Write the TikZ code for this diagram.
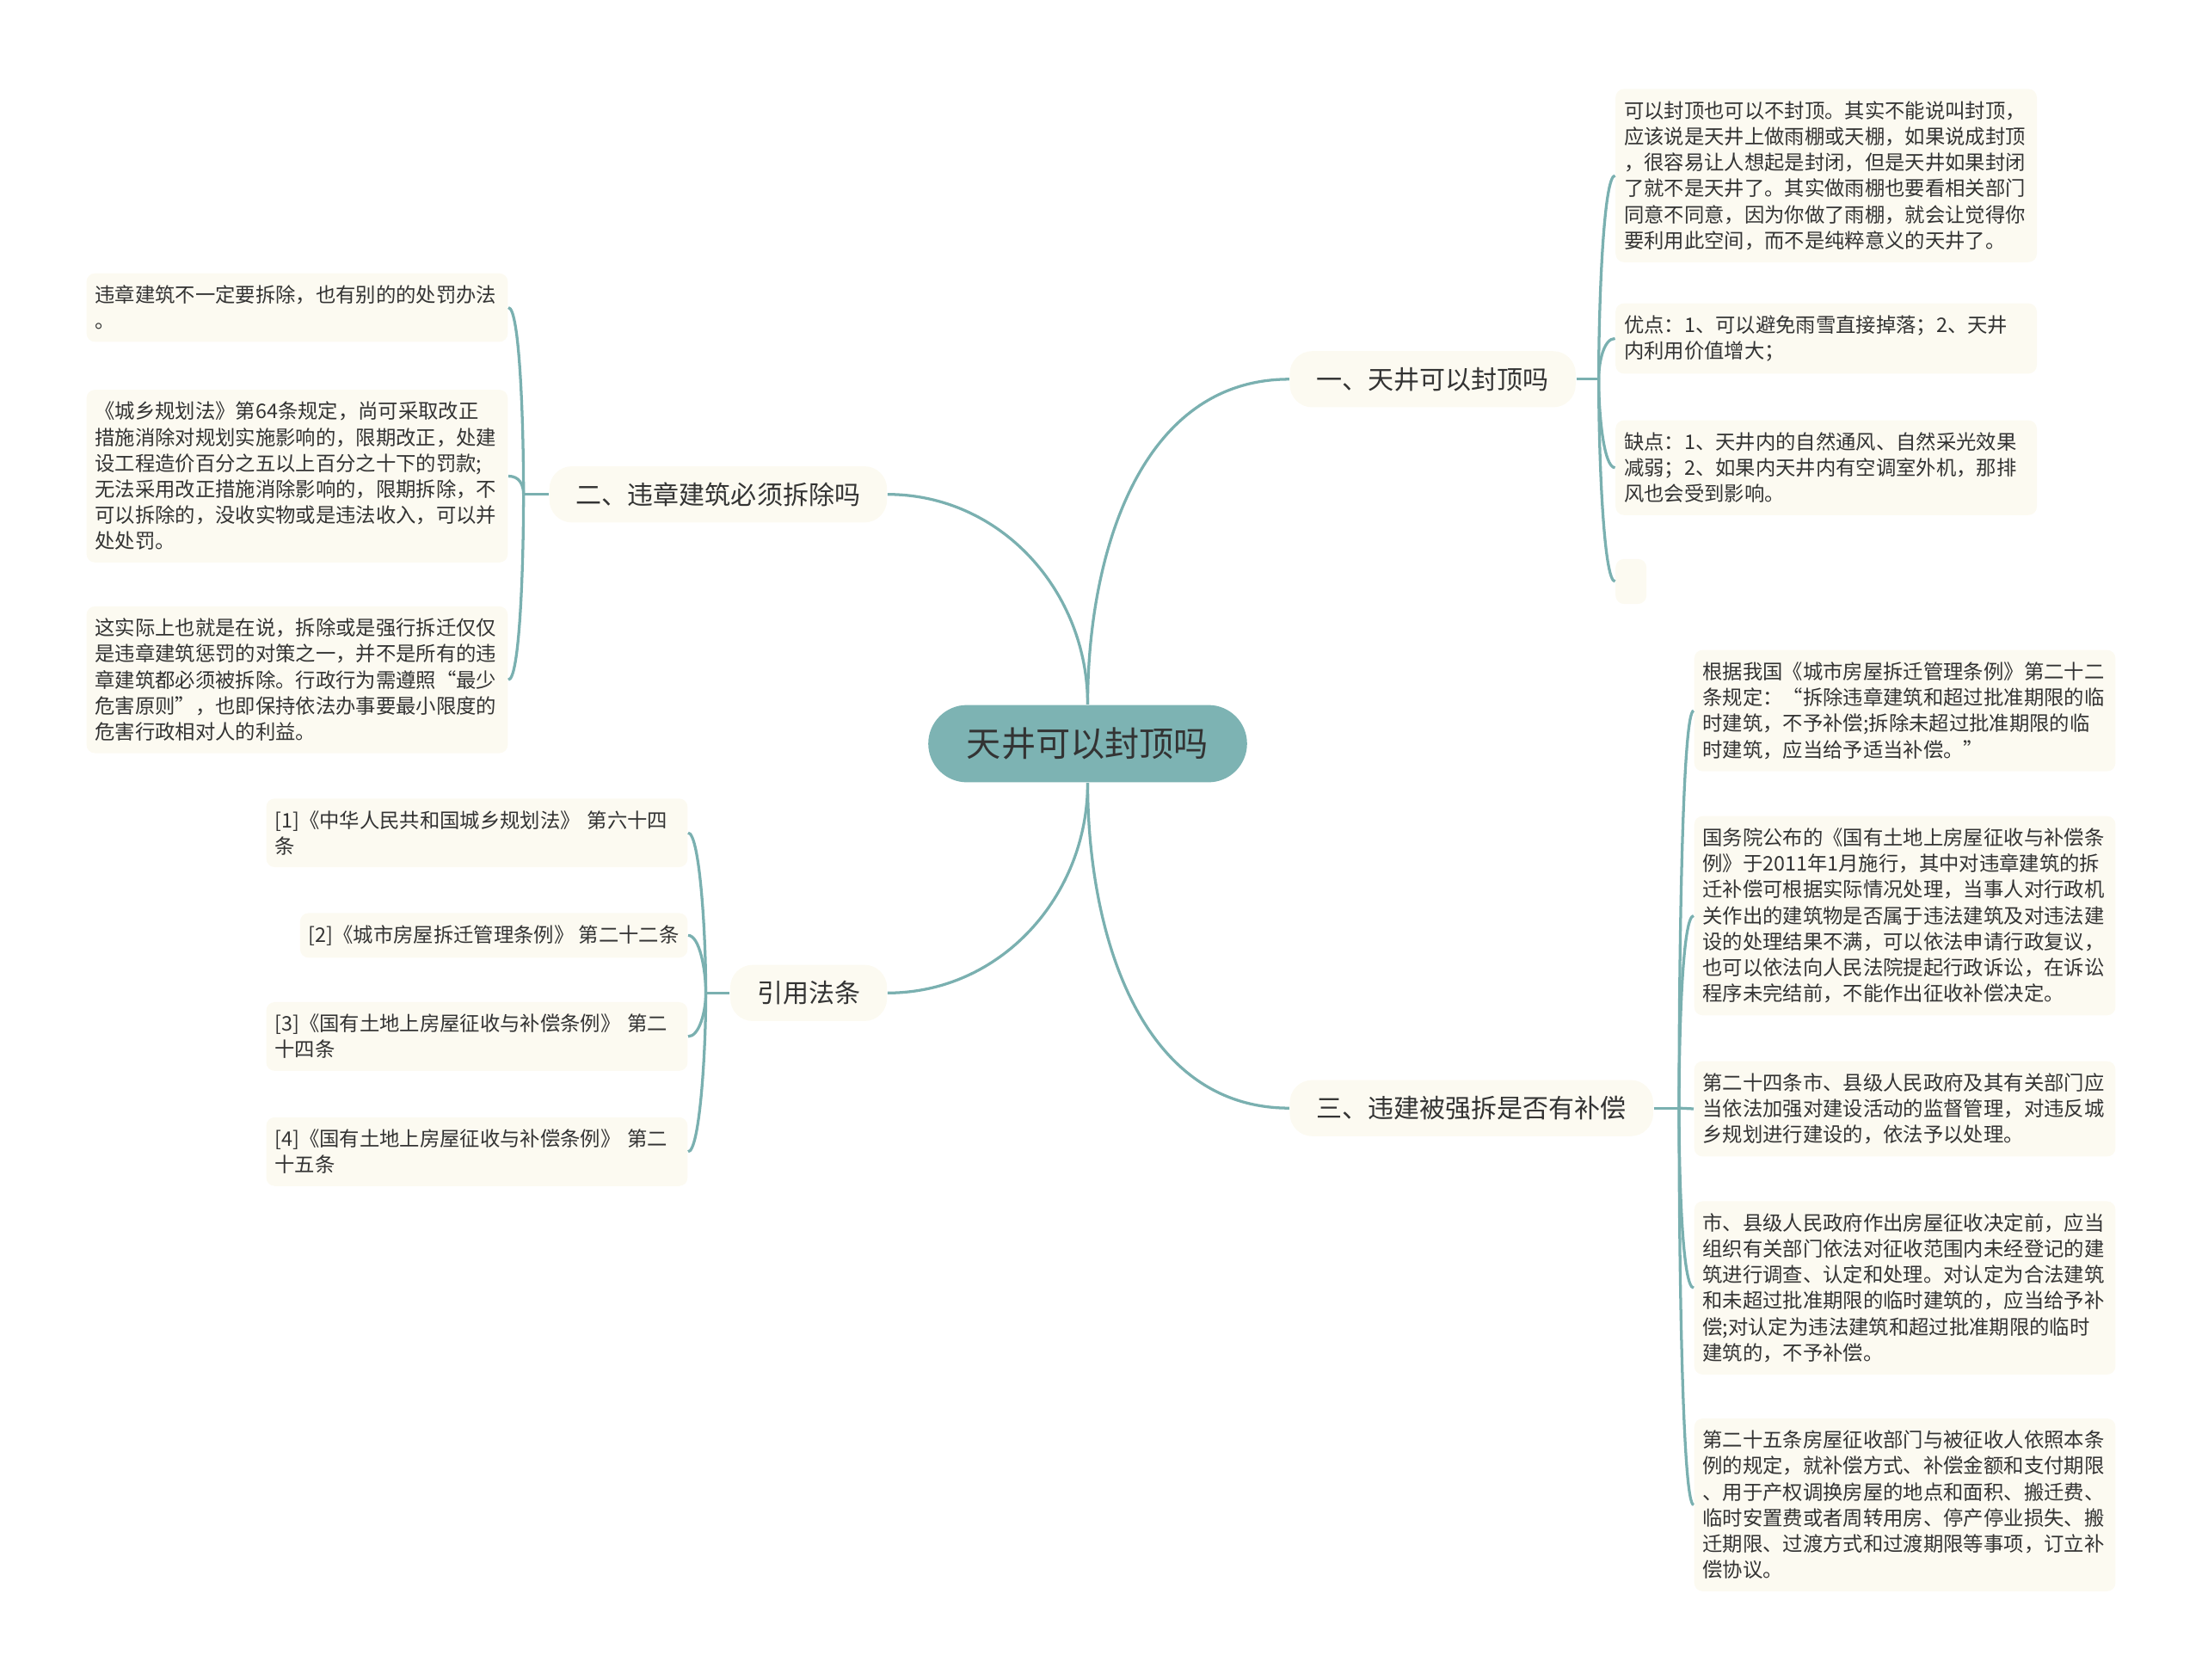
\documentclass[tikz,border=0pt]{standalone}
\usepackage{fontspec}
\setmainfont{Noto Sans CJK SC}
\usetikzlibrary{positioning}

\definecolor{linecol}{HTML}{7AB0B0}
\definecolor{rootcol}{HTML}{7DB3B3}
\definecolor{boxcol}{HTML}{FCFAF1}
\definecolor{txtcol}{HTML}{333333}

\tikzset{
  rootbox/.style={fill=rootcol, rounded corners=13.75pt, minimum width=113.5pt, minimum height=27.5pt,
    inner sep=0pt, text=txtcol, font=\fontsize{12.3pt}{14pt}\selectfont},
  branchbox/.style={fill=boxcol, rounded corners=8pt, minimum height=20pt, inner xsep=9.5pt, inner ysep=0pt,
    text=txtcol, font=\fontsize{9.2pt}{11pt}\selectfont},
  leafbox/.style={fill=boxcol, rounded corners=3pt, text width=144pt, align=left, inner xsep=3pt,
    inner ysep=4.3pt, text=txtcol, font=\fontsize{7.15pt}{9.25pt}\selectfont},
  link/.style={draw=linecol, line width=1pt},
  upright/.style={out=90, in=180, in distance=4pt},
  downright/.style={out=-90, in=180, in distance=4pt},
  upleft/.style={out=90, in=0, in distance=4pt},
  downleft/.style={out=-90, in=0, in distance=4pt}
}

\begin{document}
\begin{tikzpicture}[x=0.5pt, y=0.5pt]
    \useasboundingbox (0,0) rectangle (1568,-1196);

    % centre and the four main topics
    \node[rootbox] (root) at (774.5,-529.5) {天井可以封顶吗};
    \node[branchbox, anchor=west] (b1) at (918,-270) {一、天井可以封顶吗};
    \node[branchbox, anchor=east] (b2) at (632,-352) {二、违章建筑必须拆除吗};
    \node[branchbox, anchor=west] (b3) at (918,-789) {三、违建被强拆是否有补偿};
    \node[branchbox, anchor=east] (b4) at (632,-707) {引用法条};

    \draw[link] (root.north) to[out=90, in=180] (b1.west);
    \draw[link] (root.north) to[out=90, in=0] (b2.east);
    \draw[link] (root.south) to[out=-90, in=180] (b3.west);
    \draw[link] (root.south) to[out=-90, in=0] (b4.east);

    % topic one
    \node[leafbox, anchor=west] (l1a) at (1150,-125) {可以封顶也可以不封顶。其实不能说叫封顶，\\应该说是天井上做雨棚或天棚，如果说成封顶\\，很容易让人想起是封闭，但是天井如果封闭\\了就不是天井了。其实做雨棚也要看相关部门\\同意不同意，因为你做了雨棚，就会让觉得你\\要利用此空间，而不是纯粹意义的天井了。};
    \node[leafbox, anchor=west] (l1b) at (1150,-241) {优点：1、可以避免雨雪直接掉落；2、天井\\内利用价值增大；};
    \node[leafbox, anchor=west] (l1c) at (1150,-333) {缺点：1、天井内的自然通风、自然采光效果\\减弱；2、如果内天井内有空调室外机，那排\\风也会受到影响。};
    \node[fill=boxcol, rounded corners=3pt, minimum width=11pt, minimum height=16pt, inner sep=0pt,
      anchor=west] (l1d) at (1150,-414) {};

    \draw[link] (b1.east) -- ++(16,0) coordinate (j1);
    \foreach \n in {l1a,l1b} \draw[link] (j1) to[upright] (\n.west);
    \foreach \n in {l1c,l1d} \draw[link] (j1) to[downright] (\n.west);

    % topic two
    \node[leafbox, anchor=east] (l2a) at (362,-219) {违章建筑不一定要拆除，也有别的的处罚办法\\。};
    \node[leafbox, anchor=east] (l2b) at (362,-339) {《城乡规划法》第64条规定，尚可采取改正\\措施消除对规划实施影响的，限期改正，处建\\设工程造价百分之五以上百分之十下的罚款;\\无法采用改正措施消除影响的，限期拆除，不\\可以拆除的，没收实物或是违法收入，可以并\\处处罚。};
    \node[leafbox, anchor=east] (l2c) at (362,-484) {这实际上也就是在说，拆除或是强行拆迁仅仅\\是违章建筑惩罚的对策之一，并不是所有的违\\章建筑都必须被拆除。行政行为需遵照“最少\\危害原则”，也即保持依法办事要最小限度的\\危害行政相对人的利益。};

    \draw[link] (b2.west) -- ++(-18,0) coordinate (j2);
    \foreach \n in {l2a,l2b} \draw[link] (j2) to[upleft] (\n.east);
    \draw[link] (j2) to[downleft] (l2c.east);

    % topic three
    \node[leafbox, anchor=west] (l3a) at (1206,-506) {根据我国《城市房屋拆迁管理条例》第二十二\\条规定：“拆除违章建筑和超过批准期限的临\\时建筑，不予补偿;拆除未超过批准期限的临\\时建筑，应当给予适当补偿。”};
    \node[leafbox, anchor=west] (l3b) at (1206,-652) {国务院公布的《国有土地上房屋征收与补偿条\\例》于2011年1月施行，其中对违章建筑的拆\\迁补偿可根据实际情况处理，当事人对行政机\\关作出的建筑物是否属于违法建筑及对违法建\\设的处理结果不满，可以依法申请行政复议，\\也可以依法向人民法院提起行政诉讼，在诉讼\\程序未完结前，不能作出征收补偿决定。};
    \node[leafbox, anchor=west] (l3c) at (1206,-789.5) {第二十四条市、县级人民政府及其有关部门应\\当依法加强对建设活动的监督管理，对违反城\\乡规划进行建设的，依法予以处理。};
    \node[leafbox, anchor=west] (l3d) at (1206,-917) {市、县级人民政府作出房屋征收决定前，应当\\组织有关部门依法对征收范围内未经登记的建\\筑进行调查、认定和处理。对认定为合法建筑\\和未超过批准期限的临时建筑的，应当给予补\\偿;对认定为违法建筑和超过批准期限的临时\\建筑的，不予补偿。};
    \node[leafbox, anchor=west] (l3e) at (1206,-1071.5) {第二十五条房屋征收部门与被征收人依照本条\\例的规定，就补偿方式、补偿金额和支付期限\\、用于产权调换房屋的地点和面积、搬迁费、\\临时安置费或者周转用房、停产停业损失、搬\\迁期限、过渡方式和过渡期限等事项，订立补\\偿协议。};

    \draw[link] (b3.east) -- ++(18,0) coordinate (j3);
    \foreach \n in {l3a,l3b} \draw[link] (j3) to[upright] (\n.west);
    \draw[link] (j3) -- (l3c.west);
    \foreach \n in {l3d,l3e} \draw[link] (j3) to[downright] (\n.west);

    % cited articles
    \node[leafbox, anchor=east] (l4a) at (490,-593) {[1]《中华人民共和国城乡规划法》 第六十四\\条};
    \node[leafbox, text width=, anchor=east] (l4b) at (490,-666) {[2]《城市房屋拆迁管理条例》 第二十二条};
    \node[leafbox, anchor=east] (l4c) at (490,-738) {[3]《国有土地上房屋征收与补偿条例》 第二\\十四条};
    \node[leafbox, anchor=east] (l4d) at (490,-820) {[4]《国有土地上房屋征收与补偿条例》 第二\\十五条};

    \draw[link] (b4.west) -- ++(-17,0) coordinate (j4);
    \foreach \n in {l4a,l4b} \draw[link] (j4) to[upleft] (\n.east);
    \foreach \n in {l4c,l4d} \draw[link] (j4) to[downleft] (\n.east);
\end{tikzpicture}
\end{document}
